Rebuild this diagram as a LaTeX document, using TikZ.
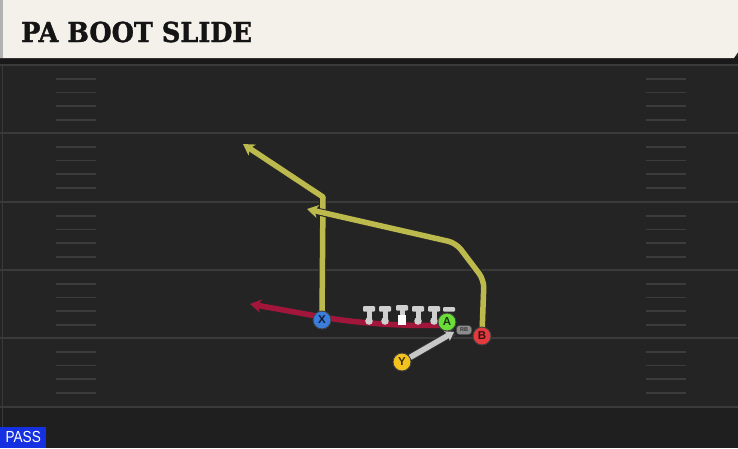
\documentclass[tikz,border=0pt]{standalone}
\usepackage{fontspec}
\usetikzlibrary{arrows.meta,shapes.misc}
\newfontfamily\titlefont[BoldFeatures={FakeBold=1.5}]{DejaVu Serif}
\newfontfamily\sansf{Liberation Sans}
\definecolor{fieldbg}{HTML}{242424}
\definecolor{fieldlow}{HTML}{1F1F1F}
\definecolor{yardline}{HTML}{3A3A3A}
\definecolor{hashc}{HTML}{3C3C3C}
\definecolor{cream}{HTML}{F4F1EA}
\definecolor{routeyel}{HTML}{BCBA4C}
\definecolor{routered}{HTML}{A3163C}
\definecolor{blockgray}{HTML}{C8C8C8}
\definecolor{linegray}{HTML}{CFCFCF}
\definecolor{xblue}{HTML}{3B7DDB}
\definecolor{agreen}{HTML}{6BDD3A}
\definecolor{bred}{HTML}{E23B3F}
\definecolor{yyel}{HTML}{F2C21E}
\definecolor{passblue}{HTML}{1530E0}
\tikzset{
  player/.style={circle, minimum size=18pt, inner sep=0pt, draw=black!75, line width=0.9pt,
    font=\sansf\bfseries\fontsize{11.5}{11.5}\selectfont},
  routeshadow/.style={line width=7.5pt, draw=black!85, line join=round, line cap=round},
  yroute/.style={line width=5.5pt, draw=routeyel, line join=round,
    -{Stealth[length=11pt,width=13pt,inset=3pt]}},
  rroute/.style={line width=5.5pt, draw=routered, line join=round,
    -{Stealth[length=11pt,width=13pt,inset=3pt]}},
  groute/.style={line width=5.5pt, draw=blockgray, line join=round,
    -{Stealth[length=8pt,width=11pt,inset=1.5pt]}},
  yardl/.style={draw=yardline, line width=2pt},
  hashl/.style={draw=hashc, line width=1.6pt},
}
\begin{document}
\begin{tikzpicture}[x=1pt,y=-1pt]
\useasboundingbox (0,0) rectangle (738,448);
% field
\fill[fieldbg] (0,0) rectangle (738,448);
\fill[fieldlow] (0,408) rectangle (738,448);
\draw[draw=yardline, line width=1pt] (2.5,64) -- (2.5,448);
% yard lines
\foreach \yy in {65,133,202,270,338,407} {
  \draw[yardl] (0,\yy) -- (738,\yy);
}
% hash marks
\foreach \base in {65,133,202,270,338} {
  \foreach \k in {1,2,3,4} {
    \pgfmathsetmacro{\hy}{\base+\k*13.7}
    \draw[hashl] (56,\hy) -- (96,\hy);
    \draw[hashl] (646,\hy) -- (686,\hy);
  }
}
% header
\fill[black!90] (0,56) rectangle (738,64);
\fill[cream] (0,0) -- (738,0) -- (738,52) -- (734,58) -- (0,58) -- cycle;
\fill[black!30] (0,0) rectangle (3,58);
\node[anchor=west, inner sep=0pt, font=\titlefont\bfseries\fontsize{27.5}{27.5}\selectfont, text=black!92] (title) at (21,32) {\scalebox{0.93}[1]{PA BOOT SLIDE}};
% route ends
\coordinate (xend) at (243,144);
\coordinate (bend) at (307,209);
\coordinate (aend) at (250,304);
\coordinate (rbtip) at (454,332);
% X route
\draw[routeshadow] (322,318) -- (323,197) -- (247,147);
\draw[yroute] (322,318) -- (323,197) -- (xend);
% B route
\draw[routeshadow, rounded corners=8pt] (482,334) -- (484,280) -- (456,243) -- (311,210);
\draw[yroute, rounded corners=8pt] (482,334) -- (484,280) -- (456,243) -- (bend);
% A route (red)
\draw[routeshadow] (446,325) .. controls (400,327) and (350,322) .. (322,317) -- (254,305);
\draw[rroute] (446,325) .. controls (400,327) and (350,322) .. (322,317) -- (aend);
% linemen
\foreach \lx in {369,385,418,434} {
  \fill[linegray] (\lx,321) circle (3.8);
  \fill[linegray] (\lx-2.5,309) rectangle (\lx+2.5,320);
  \fill[linegray, rounded corners=1pt] (\lx-6,306) rectangle (\lx+6,311.5);
}
\fill[linegray] (402-2.5,309) rectangle (402+2.5,316);
\fill[linegray, rounded corners=1pt] (402-6,305) rectangle (402+6,310.5);
\fill[white] (398,315) rectangle (406,325);
\fill[linegray, rounded corners=1pt] (443,307) rectangle (455,311.5);
% Y block arrow
\node[player, fill=yyel, text=yyel!25!black] (Y) at (402,362) {Y};
\draw[line width=7.5pt, draw=black!80] (Y) -- (rbtip);
\draw[groute] (Y) -- (rbtip);
% RB tag
\node[rounded corners=3pt, fill=black!45, draw=black!70, line width=0.5pt, minimum width=15pt, minimum height=9pt, inner sep=0pt,
  font=\sansf\bfseries\fontsize{5.5}{5.5}\selectfont, text=black!80] (RB) at (464,330) {RB};
% players
\node[player, fill=xblue, text=xblue!25!black] (X) at (322,320) {X};
\node[player, fill=agreen, text=agreen!25!black] (A) at (447,322) {A};
\node[player, fill=bred, text=bred!25!black] (B) at (482,336) {B};
% PASS label
\node[anchor=south west, fill=passblue, text=white, minimum width=46pt, minimum height=21pt, inner sep=0pt,
  font=\sansf\fontsize{16}{16}\selectfont] (pass) at (0,448) {\scalebox{0.85}[1]{PASS}};
\end{tikzpicture}
\end{document}
